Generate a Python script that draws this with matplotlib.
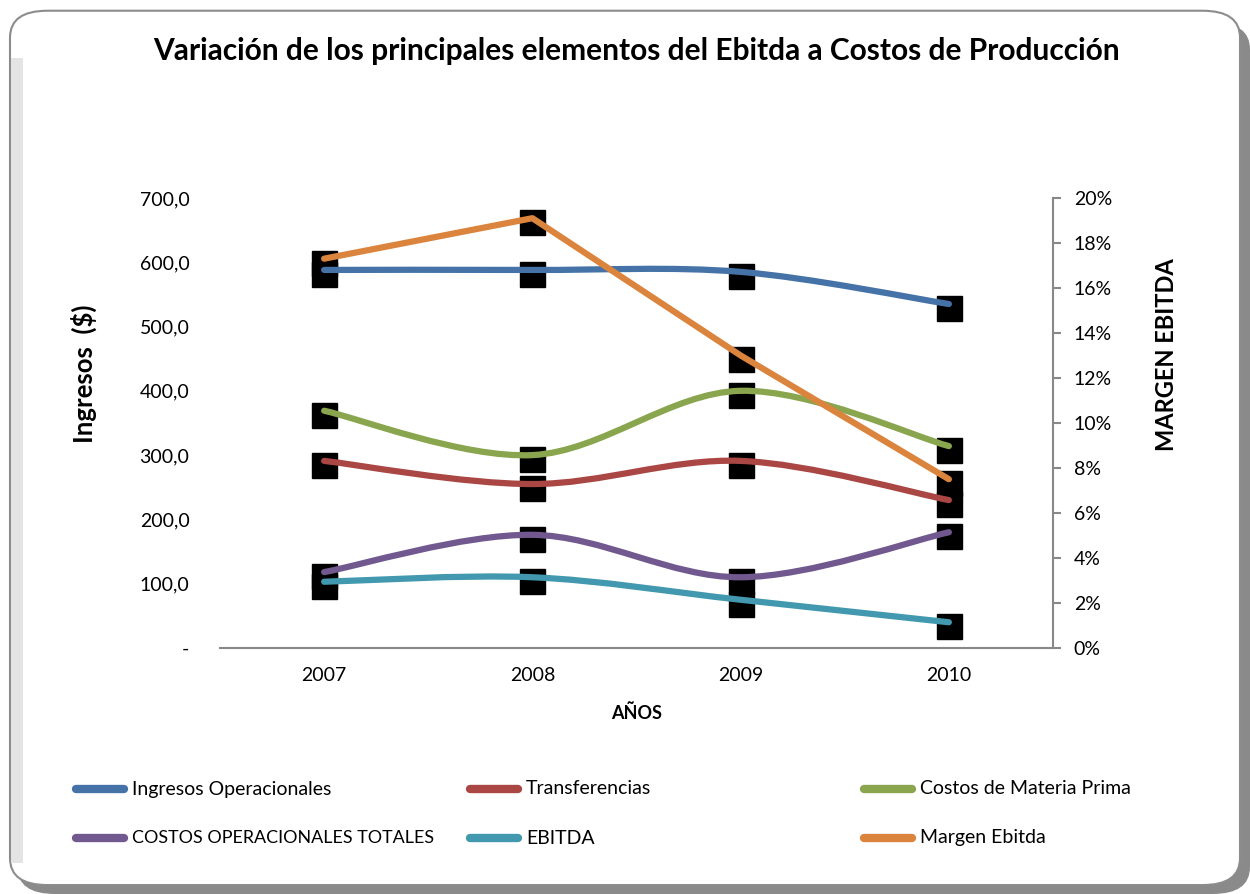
import matplotlib
matplotlib.use("Agg")
import matplotlib.pyplot as plt
from matplotlib.path import Path
from matplotlib.patches import PathPatch, FancyBboxPatch, Rectangle
from matplotlib.lines import Line2D
from matplotlib.ticker import FuncFormatter
import matplotlib.transforms as mtransforms

plt.rcParams["font.family"] = ["Lato", "DejaVu Sans"]

years = [2007, 2008, 2009, 2010]

ingresos = [588, 588, 585, 535]
transferencias = [291, 255, 291, 230]
materia_prima = [369, 300, 400, 314]
costos_op = [118, 176, 110, 180]
ebitda = [103, 110, 75, 40]
margen = [17.3, 19.1, 13.0, 7.5]   # % (right axis)

series = [
    ("Ingresos Operacionales", ingresos, "#4572A7"),
    ("Transferencias", transferencias, "#AA4643"),
    ("Costos de Materia Prima", materia_prima, "#89A54E"),
    ("COSTOS OPERACIONALES TOTALES", costos_op, "#71588F"),
    ("EBITDA", ebitda, "#4198AF"),
]
margen_label = "Margen Ebitda"
margen_color = "#DB843D"


def smooth_path(xs, ys):
    # bezier curve through the points, like Excel's "smoothed line"
    pts = list(zip(xs, ys))
    n = len(pts)
    verts = [pts[0]]
    codes = [Path.MOVETO]
    for i in range(n - 1):
        p0 = pts[max(i - 1, 0)]
        p1 = pts[i]
        p2 = pts[i + 1]
        p3 = pts[min(i + 2, n - 1)]
        c1 = (p1[0] + (p2[0] - p0[0]) / 6, p1[1] + (p2[1] - p0[1]) / 6)
        c2 = (p2[0] - (p3[0] - p1[0]) / 6, p2[1] - (p3[1] - p1[1]) / 6)
        verts += [c1, c2, p2]
        codes += [Path.CURVE4] * 3
    return Path(verts, codes)


fig = plt.figure(figsize=(12.5, 8.94), dpi=100)

# frame with shadow
shadow = FancyBboxPatch((0.014, 0.0), 0.986, 0.975, boxstyle="round,pad=0,rounding_size=0.03",
                        transform=fig.transFigure, facecolor="#8a8a8a", edgecolor="none", zorder=-3)
fig.patches.append(shadow)
frame = FancyBboxPatch((0.008, 0.01), 0.984, 0.978, boxstyle="round,pad=0,rounding_size=0.03",
                       transform=fig.transFigure, facecolor="white", edgecolor="#8c8c8c",
                       linewidth=1.5, zorder=-2)
fig.patches.append(frame)
# light bevel on the inner left edge
fig.patches.append(Rectangle((0.009, 0.035), 0.009, 0.9, transform=fig.transFigure,
                             facecolor="#e4e4e4", edgecolor="none", zorder=-1))

ax = fig.add_axes([0.176, 0.2752, 0.6664, 0.5034])
ax.patch.set_visible(False)
ax2 = ax.twinx()
ax2.patch.set_visible(False)

ax.set_xlim(2006.5, 2010.5)
ax.set_ylim(0, 700)
ax2.set_ylim(0, 20)

# black boxes sit a few pixels below each point
box_shift = mtransforms.offset_copy(ax.transData, fig=fig, x=0, y=-4, units="dots")
for label, vals, color in series:
    ax.plot(years, vals, linestyle="none", marker="s", markersize=18,
            color="black", transform=box_shift, zorder=2)
    patch = PathPatch(smooth_path(years, vals), fill=False, edgecolor=color,
                      linewidth=4.5, capstyle="round", joinstyle="round", zorder=3)
    ax.add_patch(patch)

# margen ebitda uses the right axis scale
blend = mtransforms.blended_transform_factory(ax.transData, ax2.transData)
blend_shift = mtransforms.offset_copy(blend, fig=fig, x=0, y=-4, units="dots")
ax.plot(years, margen, linestyle="none", marker="s", markersize=18,
        color="black", transform=blend_shift, zorder=2)
ax.plot(years, margen, color=margen_color, linewidth=4.5, transform=blend,
        solid_capstyle="round", solid_joinstyle="round", zorder=4)

ax.set_xticks(years)
ax.set_xticklabels([str(y) for y in years])
ax.set_yticks(range(0, 701, 100))
ax.yaxis.set_major_formatter(FuncFormatter(
    lambda v, p: "-" if v == 0 else f"{v:.1f}".replace(".", ",")))
ax2.set_yticks(range(0, 21, 2))
ax2.yaxis.set_major_formatter(FuncFormatter(lambda v, p: f"{v:.0f}%"))

for a in (ax, ax2):
    for s in ("top", "left"):
        a.spines[s].set_visible(False)
ax.spines["right"].set_visible(False)
ax2.spines["bottom"].set_visible(False)
ax.spines["bottom"].set_color("#888888")
ax.spines["bottom"].set_linewidth(1.5)
ax2.spines["right"].set_color("#888888")
ax2.spines["right"].set_linewidth(1.5)

ax.tick_params(axis="x", length=0, labelsize=14, pad=14)
ax.tick_params(axis="y", length=0, labelsize=14, pad=22)
ax2.tick_params(axis="y", length=6, width=1.5, color="#888888", direction="out",
                labelsize=14, pad=9)

ax.set_xlabel("AÑOS", fontsize=13, fontweight="bold", labelpad=14)
ax.set_ylabel("Ingresos  ($)", fontsize=18.5, fontweight="bold")
ax2.set_ylabel("MARGEN EBITDA", fontsize=17, fontweight="bold")
ax2.yaxis.set_label_coords(1.122, 0.652)
ax.yaxis.set_label_coords(-0.148, 0.609)

fig.text(0.509, 0.943, "Variación de los principales elementos del Ebitda a Costos de Producción",
         ha="center", va="center", fontsize=21.5, fontweight="bold")

# legend, three columns by two rows
legend_items = [(l, c) for l, v, c in series] + [(margen_label, margen_color)]
col_x = [72, 466, 860]
row_y = [789, 838]
for i, (label, color) in enumerate(legend_items):
    x0 = col_x[i % 3]
    y0 = row_y[i // 3]
    yf = 1 - y0 / 894
    fig.add_artist(Line2D([(x0 + 4) / 1250, (x0 + 52) / 1250], [yf, yf], color=color,
                          linewidth=6, solid_capstyle="round", transform=fig.transFigure))
    size = 12.9 if label.isupper() and len(label) > 10 else 14
    fig.text((x0 + 60) / 1250, yf, label, ha="left", va="center", fontsize=size)

fig.savefig("out.png", dpi=100)
